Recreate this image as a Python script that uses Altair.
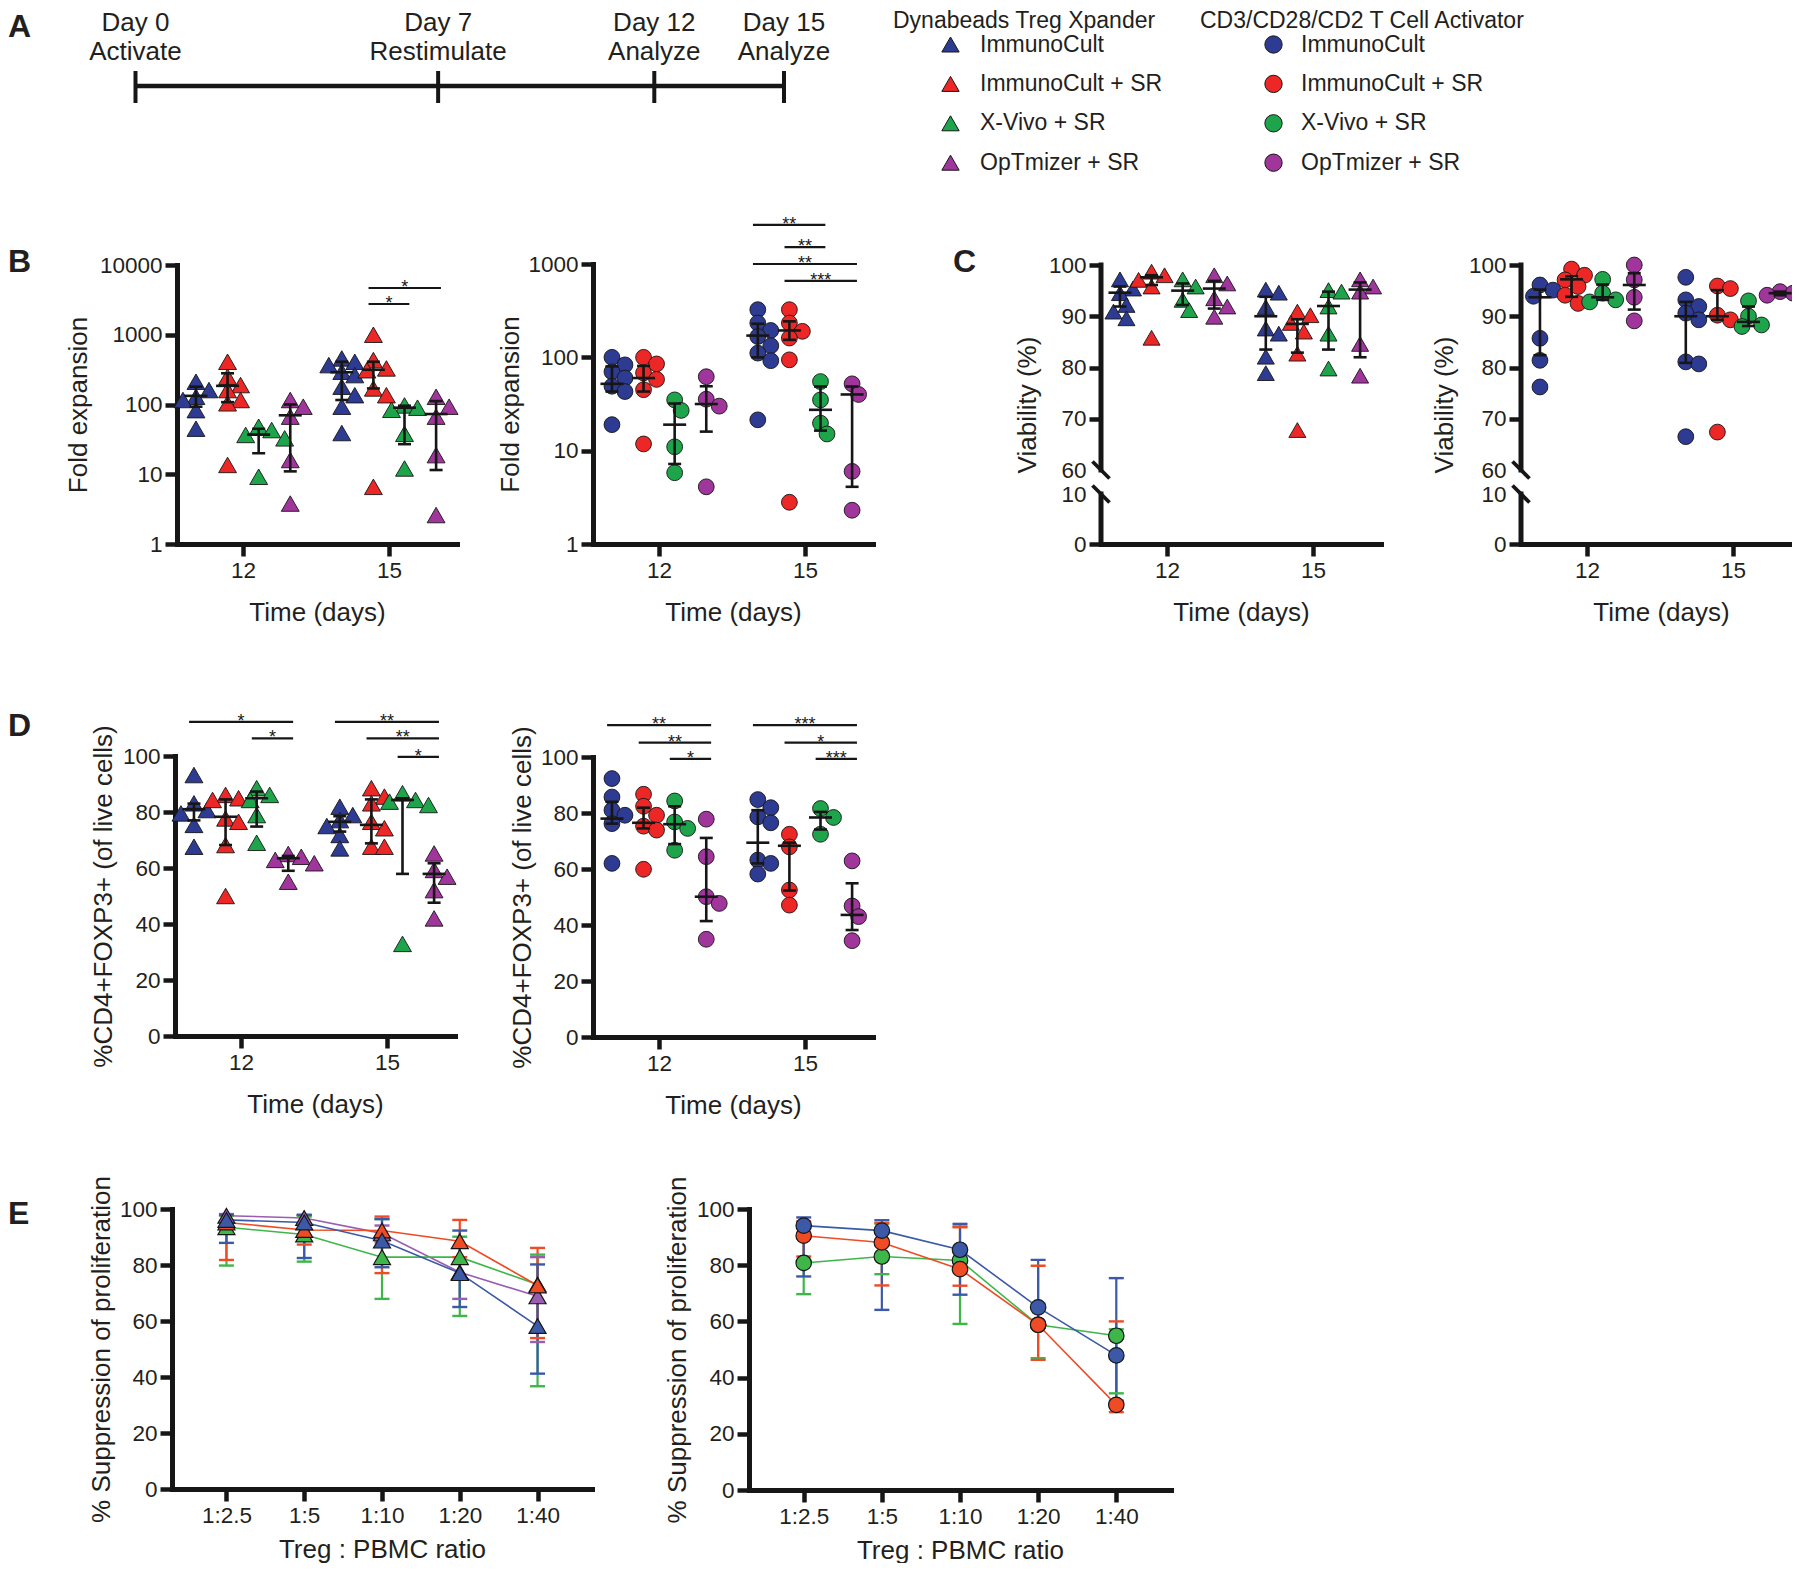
import altair as alt
import numpy as np
import pandas as pd

# ------------------------------------------------------------------ data
groups = ["ImmunoCult", "ImmunoCult + SR", "X-Vivo + SR", "OpTmizer + SR"]
group_colors = ["#2e3b92", "#ec2726", "#1ea54b", "#a0359c"]
line_colors = ["#3c59a8", "#ef4b24", "#3eb64a", "#9a5db0"]
days = [12, 15]
ratios = ["1:2.5", "1:5", "1:10", "1:20", "1:40"]
letters = ["A", "B", "C", "D", "E"]

timeline_days = [0, 7, 12, 15]
timeline_top = ["Day 0", "Day 7", "Day 12", "Day 15"]
timeline_bottom = ["Activate", "Restimulate", "Analyze", "Analyze"]

# B  fold expansion - Dynabeads (triangles); stats = (median, lower, upper)
fold_dyna_d12 = [[212, 161, 129, 116, 83, 45], [410, 250, 190, 161, 116, 104, 13.6],
                 [48, 43, 36.6, 32.7, 9.2], [116, 93, 67, 16, 3.8]]
fold_dyna_d15 = [[457, 410, 367, 295, 264, 180, 136, 93, 39], [1000, 433, 329, 310, 170, 136, 6.6],
                 [97, 90, 84, 38, 12.1], [129, 93, 67, 18.8, 2.6]]
fold_dyna_stats_d12 = [(133, 93, 180), (185, 108, 280), (37, 20, 45), (70, 11, 100)]
fold_dyna_stats_d15 = [(290, 116, 410), (315, 170, 410), (90, 27, 96), (73, 11.5, 112)]
fold_dyna_sig = [(15, 1, 3, 4680, "*"), (15, 1, 2, 2760, "*")]

# B  fold expansion - CD3/CD28/CD2 (circles)
fold_cd3_d12 = [[100, 83, 70, 60, 49, 43, 19], [100, 85, 68, 58, 45, 11.8],
                [35, 27, 11, 5.8], [62, 35.6, 30, 4.1]]
fold_cd3_d15 = [[324, 233, 194, 167, 133, 111, 92, 21.4], [324, 233, 190, 161, 94, 2.8],
                [55, 35, 19.7, 15.1], [52, 40, 6, 2.3]]
fold_cd3_stats_d12 = [(52, 43, 80), (60, 43, 81), (19, 7.2, 32), (31.6, 16, 49)]
fold_cd3_stats_d15 = [(171, 100, 229), (194, 154, 243), (27.4, 16.4, 48.7), (40, 4.1, 48.7)]
fold_cd3_sig = [(15, 0, 2, 2620, "**"), (15, 1, 2, 1520, "**"), (15, 0, 3, 1000, "**"), (15, 1, 3, 658, "***")]

# C  viability
viab_dyna_d12 = [[97.2, 95.4, 94.5, 92.2, 90.9, 89.6], [98.7, 98.0, 97.1, 95.8, 85.8],
                 [97.2, 95.8, 93.2, 91.2], [98.0, 96.4, 93.5, 91.9, 89.9]]
viab_dyna_d15 = [[95.2, 94.6, 91.8, 87.6, 86.6, 82.1, 78.9], [90.9, 90.2, 88.7, 87.0, 82.7, 67.8],
                 [95.1, 94.8, 91.9, 86.6, 79.8], [97.2, 95.8, 94.8, 84.6, 78.4]]
viab_dyna_stats_d12 = [(94.6, 91.9, 95.8), (97.6, 96.1, 98.0), (95.0, 92.2, 96.4), (95.4, 91.5, 96.9)]
viab_dyna_stats_d15 = [(90.0, 83.5, 93.8), (88.5, 82.9, 89.4), (92.0, 83.5, 94.8), (95.2, 82.0, 96.6)]

viab_cd3_d12 = [[96.1, 95.1, 93.9, 85.7, 81.4, 76.2], [99.2, 98.0, 97.1, 95.8, 94.1, 92.5],
                [97.2, 94.5, 93.2, 92.8], [100, 97.1, 93.7, 89.1]]
viab_cd3_d15 = [[97.6, 93.2, 91.9, 90.6, 89.3, 81.1, 80.7, 66.5], [95.9, 95.4, 90.2, 89.3, 67.4],
                [93.0, 90.0, 88.3, 88.0], [94.8, 94.5, 94.1, 93.9]]
viab_cd3_stats_d12 = [(93.7, 82.4, 95.2), (97.2, 93.8, 97.8), (93.7, 93.2, 96.2), (96.1, 91.3, 98.4)]
viab_cd3_stats_d15 = [(90.0, 80.9, 92.8), (90.0, 89.3, 95.1), (88.9, 88.1, 91.9), (94.5, 94.1, 94.8)]

# D  %CD4+FOXP3+
foxp3_dyna_d12 = [[93.2, 83.1, 80.7, 79.5, 75.4, 67.6], [86.1, 84.9, 84.3, 77.7, 76.5, 68.2, 50.0],
                  [88.5, 86.1, 84.3, 78.9, 69.0], [65.0, 64.0, 62.9, 61.7, 55.1]]
foxp3_dyna_d15 = [[81.9, 78.9, 77.1, 75.0, 71.8, 67.0], [88.5, 85.5, 83.1, 76.5, 74.2, 67.6, 67.6],
                  [86.7, 84.3, 83.7, 82.5, 32.9], [65.2, 59.3, 56.9, 52.1, 42.0]]
foxp3_dyna_stats_d12 = [(81.0, 77.0, 83.0), (78.3, 68.2, 84.5), (84.9, 74.8, 87.3), (63.5, 59.0, 64.3)]
foxp3_dyna_stats_d15 = [(76.5, 73.0, 78.5), (75.4, 68.8, 84.5), (84.3, 57.9, 84.9), (57.9, 47.6, 61.7)]
foxp3_dyna_sig = [(12, 0, 3, 112.2, "*"), (12, 2, 3, 106.3, "*"), (15, 0, 3, 112.2, "**"),
                  (15, 1, 3, 106.3, "**"), (15, 2, 3, 99.7, "*")]

foxp3_cd3_d12 = [[92.3, 85.7, 81.0, 79.2, 76.2, 62.0], [86.7, 82.4, 79.2, 75.3, 73.9, 59.9],
                 [84.3, 76.8, 74.5, 66.7], [77.8, 64.4, 50.1, 47.7, 34.9]]
foxp3_cd3_d15 = [[84.8, 81.9, 78.6, 76.5, 63.2, 62.0, 58.2], [72.4, 67.9, 52.5, 47.1],
                 [81.6, 78.4, 72.4], [62.9, 46.8, 43.0, 34.4]]
foxp3_cd3_stats_d12 = [(78.0, 76.2, 84.0), (76.5, 74.5, 81.9), (76.0, 68.9, 82.4), (50.1, 41.4, 71.1)]
foxp3_cd3_stats_d15 = [(69.4, 62.0, 81.0), (68.3, 52.3, 69.4), (78.4, 74.1, 80.4), (43.6, 38.2, 54.9)]
foxp3_cd3_sig = [(12, 0, 3, 111.4, "**"), (12, 1, 3, 105.1, "**"), (12, 2, 3, 99.3, "*"),
                 (15, 0, 3, 111.4, "***"), (15, 1, 3, 105.1, "*"), (15, 2, 3, 99.3, "***")]

# E  % suppression of proliferation (mean, upper, lower)
supp_dyna_mean = [[96.1, 95.2, 88.7, 77.1, 58.2], [95.2, 92.5, 92.3, 88.5, 72.7],
                  [93.5, 90.9, 82.8, 82.8, 73.0], [97.6, 96.8, 91.3, 77.4, 68.8]]
supp_dyna_hi = [[97.9, 97.9, 96.4, 92.3, 80.2], [97.9, 97.9, 97.3, 96.1, 86.1],
                [97.6, 97.3, 96.4, 90.1, 83.7], [98.2, 97.8, 94.1, 86.3, 82.8]]
supp_dyna_lo = [[87.9, 82.5, 79.2, 65.0, 41.2], [81.8, 87.3, 77.1, 82.8, 53.9],
                [79.8, 81.2, 67.9, 61.8, 36.7], [95.5, 94.5, 88.1, 67.9, 52.5]]
supp_cd3_mean = [[94.1, 92.3, 85.5, 65.0, 47.9], [90.5, 88.1, 78.6, 58.8, 30.3], [80.8, 83.1, 81.7, 58.8, 54.9]]
supp_cd3_hi = [[97.0, 96.0, 94.7, 81.9, 75.4], [95.6, 95.0, 93.5, 79.8, 60.0], [93.2, 94.8, 93.8, 66.3, 57.2]]
supp_cd3_lo = [[76.0, 64.1, 69.5, 57.6, 31.8], [83.1, 72.8, 72.7, 46.3, 27.7], [69.7, 76.8, 59.1, 46.9, 34.4]]

# ------------------------------------------------------------------ layout helpers
W, H = 1784, 1555
X_DOM = [10.64, 16.4]
GROUP_OFF = [-0.97, -0.32, 0.32, 0.97]
INK = "#161616"
TXT = "#231f20"
FONT = "Liberation Sans"
AXIS_STYLE = dict(domainColor=INK, domainWidth=5, domainCap="square", tickColor=INK, tickWidth=4.5,
                  tickSize=12, labelFont=FONT, labelFontSize=22.5, labelColor=TXT, labelPadding=3,
                  labelFlush=False, labelOverlap=False, titleFont=FONT, titleFontSize=26,
                  titleFontWeight="normal", titleColor=TXT, titleBaseline="middle", grid=False)


def make_map(domain, rng, log):
    d = np.log10(np.array(domain, float)) if log else np.array(domain, float)
    r = np.array(rng, float)

    def f(v):
        vv = np.log10(v) if log else v
        return float(np.interp(vv, d, r))

    def inv(p):
        vv = float(np.interp(p, r[::-1], d[::-1]))
        return 10 ** vv if log else vv
    return f, inv


def swarm(vals, fmap, step=6.5, mind=12.0):
    order = sorted(range(len(vals)), key=lambda i: -vals[i])
    cands = [0.0] + [s * k * step for k in range(1, 8) for s in (1, -1)]
    placed, offs = [], [0.0] * len(vals)
    for i in order:
        y = fmap(vals[i])
        chosen = cands[-1]
        for c in cands:
            if all((c - px) ** 2 + (y - py) ** 2 >= mind ** 2 for px, py in placed):
                chosen = c
                break
        placed.append((chosen, y))
        offs[i] = chosen
    return offs


def make_legend(title, x, shape, sym_off, lab_off):
    return alt.Legend(orient="none", legendX=x, legendY=2, title=title, titleFontSize=23,
                      titleFontWeight="normal", titleColor=TXT, titleLimit=600, titlePadding=0,
                      labelFontSize=23, labelColor=TXT, labelLimit=400, labelOffset=lab_off,
                      symbolOffset=sym_off, symbolSize=300, symbolType=shape,
                      symbolStrokeColor=INK, symbolStrokeWidth=1, rowPadding=15.4, padding=0)


def dot_panel(pts12, pts15, st12, st15, sig, shape, size, xr, ydom, yr, log, ytitle, ytx, yvals,
              legend=None, broken=False):
    fmap, finv = make_map(ydom, yr, log)
    ppd = (xr[1] - xr[0]) / (X_DOM[1] - X_DOM[0])
    prow, srow = [], []
    for day, pts, st in ((days[0], pts12, st12), (days[1], pts15, st15)):
        for gi, vals in enumerate(pts):
            offs = swarm(vals, fmap)
            for v, o in zip(vals, offs):
                prow.append({"group": groups[gi], "x": day + GROUP_OFF[gi] + o / ppd, "value": v})
            med, lo, hi = st[gi]
            srow.append({"x": day + GROUP_OFF[gi], "med": med, "lo": lo, "hi": hi})
    pdf, sdf = pd.DataFrame(prow), pd.DataFrame(srow)

    xs = alt.Scale(domain=X_DOM, range=list(xr), nice=False, zero=False)
    if log:
        ys = alt.Scale(type="log", domain=ydom, range=list(yr), nice=False)
    else:
        ys = alt.Scale(domain=ydom, range=list(yr), nice=False, zero=False)
    xaxis = alt.Axis(orient="bottom", offset=yr[0] - H, values=days, format="d",
                     title="Time (days)", titleY=68, **AXIS_STYLE)
    ykw = dict(AXIS_STYLE, orient="left", offset=-xr[0], values=yvals, format="d", title=ytitle, titleX=ytx)
    if broken:
        ykw.update(domain=False,
                   tickOpacity={"condition": {"test": "datum.value == 10 || datum.value == 60", "value": 0},
                                "value": 1})
    yaxis = alt.Axis(**ykw)

    def X(f):
        return alt.X(f, type="quantitative", scale=xs, axis=xaxis)

    def Y(f):
        return alt.Y(f, type="quantitative", scale=ys, axis=yaxis)

    fill = alt.Fill("group:N", scale=alt.Scale(domain=groups, range=group_colors), legend=legend)
    layers = [
        alt.Chart(pdf).mark_point(shape=shape, filled=True, size=size, stroke=INK, strokeWidth=0.9,
                                  opacity=1).encode(x=X("x"), y=Y("value"), fill=fill),
        alt.Chart(sdf).mark_rule(color=INK, strokeWidth=2.6).encode(x=X("x"), y=Y("lo"), y2="hi:Q"),
        alt.Chart(sdf).mark_tick(orient="horizontal", size=13, thickness=2.6, color=INK,
                                 opacity=1).encode(x=X("x"), y=Y("lo")),
        alt.Chart(sdf).mark_tick(orient="horizontal", size=13, thickness=2.6, color=INK,
                                 opacity=1).encode(x=X("x"), y=Y("hi")),
        alt.Chart(sdf).mark_tick(orient="horizontal", size=23, thickness=2.6, color=INK,
                                 opacity=1).encode(x=X("x"), y=Y("med")),
    ]
    if sig:
        sg = pd.DataFrame([{"x1": d + GROUP_OFF[a] - 0.1, "x2": d + GROUP_OFF[b] + 0.1,
                            "xm": d + (GROUP_OFF[a] + GROUP_OFF[b]) / 2, "y": yv, "label": lab}
                           for d, a, b, yv, lab in sig])
        layers.append(alt.Chart(sg).mark_rule(color=INK, strokeWidth=2.2).encode(
            x=X("x1"), x2="x2:Q", y=Y("y")))
        layers.append(alt.Chart(sg).mark_text(fontSize=18, dy=5, baseline="alphabetic", color=INK).encode(
            x=X("xm"), y=Y("y"), text="label:N"))
    if broken:
        seg = pd.DataFrame({"ax": [X_DOM[0]] * 2, "lo": [ydom[0], ydom[2]], "hi": [ydom[1], ydom[3]]})
        layers.append(alt.Chart(seg).mark_rule(color=INK, strokeWidth=5, strokeCap="square").encode(
            x=X("ax"), y=Y("lo"), y2="hi:Q"))
        half = 8.5
        rows = []
        for bv in (ydom[1], ydom[2]):
            p = fmap(bv)
            rows.append({"x1": X_DOM[0] - half / ppd, "x2": X_DOM[0] + half / ppd,
                         "y1": finv(p - half), "y2": finv(p + half)})
        sl = pd.DataFrame(rows)
        layers.append(alt.Chart(sl).mark_rule(color=INK, strokeWidth=3.8).encode(
            x=X("x1"), x2="x2:Q", y=Y("y1"), y2="y2:Q"))
    return alt.layer(*layers)


def supp_panel(means, his, los, shape, size, xr, yr, ytx):
    n = len(means)
    rows = []
    for si in reversed(range(n)):
        for ri, r in enumerate(ratios):
            rows.append({"series": groups[si], "ratio": r, "idx": ri, "mean": means[si][ri],
                         "lo": los[si][ri], "hi": his[si][ri]})
    df = pd.DataFrame(rows)
    xs = alt.Scale(type="point", domain=ratios, range=list(xr), padding=0.7)
    ys = alt.Scale(domain=[0, 100], range=list(yr), nice=False, zero=False)
    xaxis = alt.Axis(orient="bottom", offset=yr[0] - H, title="Treg : PBMC ratio", titleY=60, labelAngle=0,
                     **AXIS_STYLE)
    yaxis = alt.Axis(orient="left", offset=-xr[0], values=[0, 20, 40, 60, 80, 100], format="d",
                     title="% Suppression of proliferation", titleX=ytx, **AXIS_STYLE)
    cs = alt.Scale(domain=groups[:n], range=line_colors[:n])
    xenc = alt.X("ratio:N", scale=xs, axis=xaxis)

    def Y(f):
        return alt.Y(f, type="quantitative", scale=ys, axis=yaxis)

    base = alt.Chart(df)
    return alt.layer(
        base.mark_line(strokeWidth=1.6).encode(x=xenc, y=Y("mean"),
                                               stroke=alt.Stroke("series:N", scale=cs, legend=None),
                                               order="idx:Q"),
        base.mark_rule(strokeWidth=2.2).encode(x=xenc, y=Y("lo"), y2="hi:Q",
                                               stroke=alt.Stroke("series:N", scale=cs, legend=None)),
        base.mark_tick(orient="horizontal", size=15, thickness=2.4, opacity=1).encode(
            x=xenc, y=Y("lo"), color=alt.Color("series:N", scale=cs, legend=None)),
        base.mark_tick(orient="horizontal", size=15, thickness=2.4, opacity=1).encode(
            x=xenc, y=Y("hi"), color=alt.Color("series:N", scale=cs, legend=None)),
        base.mark_point(shape=shape, filled=True, size=size, stroke=INK, strokeWidth=1.2, opacity=1).encode(
            x=xenc, y=Y("mean"), fill=alt.Fill("series:N", scale=cs, legend=None)),
    )


# ------------------------------------------------------------------ panel A (timeline)
tl = pd.DataFrame({"day": timeline_days, "top": timeline_top, "bottom": timeline_bottom})
span = pd.DataFrame({"start": [min(timeline_days)], "end": [max(timeline_days)]})
tls = alt.Scale(domain=[min(timeline_days), max(timeline_days)], range=[127.5, 776], nice=False, zero=False)
timeline = alt.layer(
    alt.Chart(span).mark_rule(color=INK, strokeWidth=4.5).encode(
        x=alt.X("start:Q", scale=tls, axis=None), x2="end:Q", y=alt.value(78)),
    alt.Chart(tl).mark_rule(color=INK, strokeWidth=4).encode(
        x=alt.X("day:Q", scale=tls, axis=None), y=alt.value(63), y2=alt.value(95)),
    alt.Chart(tl).mark_text(fontSize=26, baseline="middle", color=TXT).encode(
        x=alt.X("day:Q", scale=tls, axis=None), y=alt.value(14.5), text="top:N"),
    alt.Chart(tl).mark_text(fontSize=26, baseline="middle", color=TXT).encode(
        x=alt.X("day:Q", scale=tls, axis=None), y=alt.value(43.5), text="bottom:N"),
)

letter_pos = [(0, 19), (0, 254), (945, 254), (0, 718), (0, 1206)]
letter_layers = [
    alt.Chart(pd.DataFrame({"label": [lab]})).mark_text(
        fontSize=32, fontWeight="bold", align="left", baseline="middle", color=TXT).encode(
        x=alt.value(px), y=alt.value(py), text="label:N")
    for lab, (px, py) in zip(letters, letter_pos)
]

# ------------------------------------------------------------------ panels
TRI, CIR = 320, 250
B1 = dot_panel(fold_dyna_d12, fold_dyna_d15, fold_dyna_stats_d12, fold_dyna_stats_d15, fold_dyna_sig,
               "triangle-up", TRI, (169, 449), [1, 10000], (536, 257), True, "Fold expansion", -99,
               [1, 10, 100, 1000, 10000],
               legend=make_legend("Dynabeads Treg Xpander", 885, "triangle-up", 46, 18))
B2 = dot_panel(fold_cd3_d12, fold_cd3_d15, fold_cd3_stats_d12, fold_cd3_stats_d15, fold_cd3_sig,
               "circle", CIR, (585, 865), [1, 1000], (536, 256), True, "Fold expansion", -83,
               [1, 10, 100, 1000],
               legend=make_legend("CD3/CD28/CD2 T Cell Activator", 1192, "circle", 62, 16))
C1 = dot_panel(viab_dyna_d12, viab_dyna_d15, viab_dyna_stats_d12, viab_dyna_stats_d15, [],
               "triangle-up", TRI - 30, (1093, 1373), [0, 10, 60, 100], (536, 486, 462, 257), False,
               "Viability (%)", -74, [0, 10, 60, 70, 80, 90, 100], broken=True)
C2 = dot_panel(viab_cd3_d12, viab_cd3_d15, viab_cd3_stats_d12, viab_cd3_stats_d15, [],
               "circle", CIR, (1513, 1793), [0, 10, 60, 100], (536, 486, 462, 257), False,
               "Viability (%)", -77, [0, 10, 60, 70, 80, 90, 100], broken=True)
D1 = dot_panel(foxp3_dyna_d12, foxp3_dyna_d15, foxp3_dyna_stats_d12, foxp3_dyna_stats_d15, foxp3_dyna_sig,
               "triangle-up", TRI, (167, 447), [0, 100], (1028, 748), False,
               "%CD4+FOXP3+ (of live cells)", -72, [0, 20, 40, 60, 80, 100])
D2 = dot_panel(foxp3_cd3_d12, foxp3_cd3_d15, foxp3_cd3_stats_d12, foxp3_cd3_stats_d15, foxp3_cd3_sig,
               "circle", CIR, (585, 865), [0, 100], (1029, 749), False,
               "%CD4+FOXP3+ (of live cells)", -71, [0, 20, 40, 60, 80, 100])
E1 = supp_panel(supp_dyna_mean, supp_dyna_hi, supp_dyna_lo, "triangle-up", 290, (164, 584), (1481, 1201), -71)
E2 = supp_panel(supp_cd3_mean, supp_cd3_hi, supp_cd3_lo, "circle", 240, (741, 1163), (1482, 1201), -72)

chart = alt.layer(timeline, B1, B2, C1, C2, D1, D2, E1, E2, *letter_layers).resolve_scale(
    x="independent", y="independent", fill="independent", stroke="independent", color="independent"
).resolve_axis(x="independent", y="independent").resolve_legend(
    fill="independent", stroke="independent", color="independent"
).properties(
    width=W, height=H, autosize=alt.AutoSizeParams(type="none"), padding=0
).configure(font=FONT).configure_view(strokeWidth=0)

chart.save("out.html", embed_options={"renderer": "svg", "actions": False})
